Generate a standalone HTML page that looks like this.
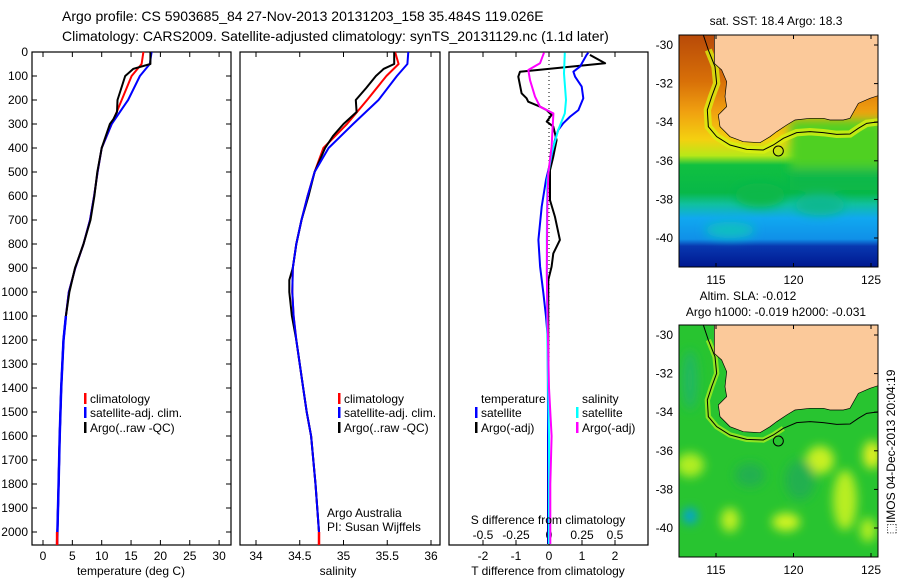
<!DOCTYPE html>
<html><head><meta charset="utf-8"><style>
body{margin:0;background:#fff;}
svg{display:block;font-family:"Liberation Sans",sans-serif;}
</style></head><body>
<svg id="fig" width="900" height="580" viewBox="0 0 900 580" xmlns="http://www.w3.org/2000/svg">
<defs>
<linearGradient id="sstW" x1="0" y1="0" x2="0" y2="1">
<stop offset="0" stop-color="#b84a08"/><stop offset="0.2" stop-color="#d87008"/><stop offset="0.33" stop-color="#f0a010"/><stop offset="0.45" stop-color="#f4d010"/><stop offset="0.52" stop-color="#b8e818"/><stop offset="0.56" stop-color="#10c040"/><stop offset="0.68" stop-color="#08b848"/><stop offset="0.73" stop-color="#10c0a0"/><stop offset="0.79" stop-color="#10a8f0"/><stop offset="0.88" stop-color="#1090e8"/><stop offset="0.91" stop-color="#0838b0"/><stop offset="1" stop-color="#001890"/>
</linearGradient>
<clipPath id="clipTop"><rect x="679" y="35" width="199" height="232"/></clipPath>
<clipPath id="clipBot"><rect x="679" y="325" width="199" height="232"/></clipPath>
<filter id="blur"><feGaussianBlur stdDeviation="5"/></filter>
</defs>

<text x="62" y="21" font-size="14">Argo profile: CS 5903685_84 27-Nov-2013 20131203_158 35.484S 119.026E</text>
<text x="62" y="41" font-size="14">Climatology: CARS2009. Satellite-adjusted climatology: synTS_20131129.nc (1.1d later)</text>

<g id="p1"></g>
<g id="p2"></g>
<g id="p3"></g>

<!-- top map -->
<g>
<g clip-path="url(#clipTop)">
<rect x="679" y="35" width="199" height="232" fill="url(#sstW)"/>
<g filter="url(#blur)">
<rect x="790" y="120" width="95" height="50" fill="#50d020"/>
<rect x="790" y="168" width="95" height="22" fill="#08b848"/>
<ellipse cx="760" cy="195" rx="25" ry="12" fill="#08b848"/>
<ellipse cx="820" cy="205" rx="25" ry="10" fill="#10b890"/>
<ellipse cx="730" cy="230" rx="25" ry="8" fill="#10c0c0"/>
</g>
<g transform="translate(650,0) scale(0.33333)">
<polyline points="175,150 195,200 200,250 185,290 172,330 175,380 200,410 240,435 290,448 340,450 370,435 400,415 440,398 480,395 520,398 560,403 600,402 625,385 650,370 690,365" fill="none" stroke="#d8f010" stroke-width="22" opacity="0.8"/>
<polygon points="193,100 193,190 215,210 230,245 225,290 230,320 215,335 205,345 210,380 240,410 280,425 330,428 360,410 380,395 410,375 435,360 480,355 520,355 540,360 580,360 600,355 625,310 660,295 690,285 690,100" fill="#fbc99a" stroke="#000" stroke-width="2"/>
<polyline points="160,105 175,150 195,200 200,250 185,290 172,330 175,380 200,410 240,435 290,448 340,450 370,435 400,415 440,398 480,395 520,398 560,403 600,402 625,385 650,370 690,365" fill="none" stroke="#000" stroke-width="3"/>
<circle cx="385" cy="453" r="15" fill="none" stroke="#000" stroke-width="3"/>
</g></g>
<rect x="679" y="35" width="199" height="232" fill="none" stroke="#000"/>
</g>
<text x="776" y="25" font-size="12" text-anchor="middle">sat. SST: 18.4  Argo: 18.3</text>

<!-- bottom map -->
<g>
<g clip-path="url(#clipBot)">
<rect x="679" y="325" width="199" height="232" fill="#28c430"/>
<g filter="url(#blur)">
<ellipse cx="690" cy="465" rx="14" ry="12" fill="#b0ee20"/>
<ellipse cx="730" cy="520" rx="9" ry="12" fill="#c0f020"/>
<ellipse cx="786" cy="522" rx="14" ry="9" fill="#d0f420"/>
<ellipse cx="820" cy="460" rx="14" ry="14" fill="#c8f020"/>
<ellipse cx="845" cy="500" rx="12" ry="30" fill="#b8ee20"/>
<ellipse cx="872" cy="455" rx="9" ry="14" fill="#e0f020"/>
<ellipse cx="868" cy="530" rx="8" ry="12" fill="#b0ee20"/>
<ellipse cx="750" cy="475" rx="15" ry="12" fill="#20b050"/>
<ellipse cx="800" cy="480" rx="15" ry="20" fill="#20b050"/>
<ellipse cx="690" cy="380" rx="8" ry="30" fill="#20b860"/>
<ellipse cx="690" cy="516" rx="7" ry="8" fill="#00a0e0"/>
</g>
<g transform="translate(650,290) scale(0.33333)">
<polyline points="175,150 195,200 200,250 185,290 172,330 175,380 200,410 240,435 290,448 340,450 370,435 400,415" fill="none" stroke="#a8ee20" stroke-width="16" opacity="0.8"/>
<polygon points="193,100 193,190 215,210 230,245 225,290 230,320 215,335 205,345 210,380 240,410 280,425 330,428 360,410 380,395 410,375 435,360 480,355 520,355 540,360 580,360 600,355 625,310 660,295 690,285 690,100" fill="#fbc99a" stroke="#000" stroke-width="2"/>
<polyline points="160,105 175,150 195,200 200,250 185,290 172,330 175,380 200,410 240,435 290,448 340,450 370,435 400,415 440,398 480,395 520,398 560,403 600,402 625,385 650,370 690,365" fill="none" stroke="#000" stroke-width="3"/>
<circle cx="385" cy="453" r="15" fill="none" stroke="#000" stroke-width="3"/>
</g></g>
<rect x="679" y="325" width="199" height="232" fill="none" stroke="#000"/>
</g>
<text x="748" y="300" font-size="12" text-anchor="middle">Altim. SLA: -0.012</text>
<text x="776" y="316" font-size="12" text-anchor="middle">Argo h1000: -0.019 h2000: -0.031</text>
<text transform="translate(895,452) rotate(-90)" font-size="12" text-anchor="middle">⬚IMOS 04-Dec-2013 20:04:19</text>
<g id="maxes"></g>
</svg>
<script>
// ---- data ----
const tempDepth = [0,50,70,100,200,250,280,300,400,500,600,700,800,900,1000,1100,1200,1400,1600,1800,2000,2050];
const tempArgo  = [18.3,18.3,15.4,14.0,12.7,12.6,12.0,11.4,10.0,9.25,8.75,8.1,6.9,5.45,4.5,3.9,3.5,3.1,2.85,2.65,2.45,2.4];
const tempClimDepth = [0,50,100,200,300,400,500,600,700,800,900,1000,1100,1200,1400,1600,1800,2000,2050];
const tempClim  = [17.1,16.8,15.1,13.4,11.7,10.0,9.3,8.7,8.0,6.9,5.5,4.4,3.9,3.5,3.1,2.85,2.65,2.45,2.4];
const tempSat   = [18.5,18.2,16.5,14.5,11.7,10.0,9.3,8.7,8.0,6.9,5.5,4.4,3.9,3.5,3.1,2.85,2.65,2.45,2.4];
const salDepth = [0,50,70,100,150,200,250,300,350,400,500,600,700,800,900,950,1000,1100,1200,1400,1500,1600,1800,2000,2050];
const salArgo  = [35.58,35.58,35.46,35.37,35.26,35.14,35.15,35.0,34.88,34.79,34.67,34.6,34.52,34.46,34.42,34.38,34.38,34.41,34.46,34.54,34.58,34.63,34.68,34.72,34.72];
const salClimDepth = [0,50,100,200,300,400,500,600,700,800,900,1000,1100,1200,1400,1500,1600,1800,2000,2050];
const salClim = [35.59,35.63,35.49,35.27,35.04,34.77,34.67,34.59,34.52,34.46,34.42,34.415,34.43,34.46,34.54,34.58,34.63,34.68,34.72,34.72];
const salSat  = [35.74,35.73,35.61,35.40,35.11,34.83,34.67,34.59,34.52,34.46,34.42,34.415,34.43,34.46,34.54,34.58,34.63,34.68,34.72,34.72];
const tdArgoDepth = [12,47,82,103,172,193,207,228,242,262,290,311,367,436,492,617,686,783,839,894,950,1186,1500,2050];
const tdArgo = [1.24,1.70,-0.88,-0.93,-0.83,-0.68,-0.63,-0.27,-0.07,0.08,-0.07,0.13,0.23,0.13,0.03,0.03,0.18,0.33,0.13,0.08,-0.02,-0.02,-0.03,-0.03];
const tdSatDepth = [3,12,61,82,103,144,193,242,269,297,325,367,464,533,644,783,894,1006,1103,1186,1500,2050];
const tdSat = [1.19,1.14,0.94,0.74,0.79,0.99,1.04,0.89,0.64,0.43,0.28,0.18,0.03,-0.09,-0.22,-0.32,-0.27,-0.17,-0.09,-0.04,-0.03,-0.02];
const sdSatDepth = [3,89,200,256,325,422,533,783,1186,1600,2050];
const sdSat = [0.12,0.114,0.129,0.12,0.07,0.02,-0.013,-0.017,-0.013,0.0,0.0];
const sdArgoDepth = [3,47,75,117,186,228,256,311,394,506,644,922,1061,1400,1600,1800,2050];
const sdArgo = [-0.038,-0.068,-0.157,-0.144,-0.106,-0.068,0.033,0.028,0.02,-0.005,-0.013,-0.017,-0.013,0.0,0.02,0.01,0.01];
const depthTicks = [0,100,200,300,400,500,600,700,800,900,1000,1100,1200,1300,1400,1500,1600,1700,1800,1900,2000];
const tempTicks = [0,5,10,15,20,25,30];
const salTicks = [34,34.5,35,35.5,36];
const salTickLabels = ["34","34.5","35","35.5","36"];
const tdTicks = [-2,-1,0,1,2];
const sdTicks = [-0.5,-0.25,0,0.25,0.5];
const sdTickLabels = ["-0.5","-0.25","0","0.25","0.5"];
const latTicks = [-30,-32,-34,-36,-38,-40];
const lonTicks = [115,120,125];

// ---- scales ----
const TOP=52, BOT=545;
const yD = d => TOP + d*0.24;
const xT = t => 43 + t*5.87;
const xS = s => 256 + (s-34)*87.5;
const xTD = d => 549 + d*33;
const xSD = d => 549 + d*132;
const NS='http://www.w3.org/2000/svg';
function mk(tag, attrs, parent){const e=document.createElementNS(NS,tag);for(const k in attrs)e.setAttribute(k,attrs[k]);parent.appendChild(e);return e;}
function line(parent, xs, ds, xf, color, w){
  const pts = xs.map((v,i)=>xf(v).toFixed(1)+','+yD(ds[i]).toFixed(1)).join(' ');
  return mk('polyline',{points:pts,fill:'none',stroke:color,'stroke-width':w,'stroke-linejoin':'round'},parent);
}
function frame(parent,x0,x1){
  const r = mk('rect',{x:x0,y:TOP,width:x1-x0,height:BOT-TOP,fill:'none',stroke:'#000','stroke-width':1.2},parent);
  
  
}
function xticks(parent, ticks, labels, xf, ly){
  ticks.forEach((t,i)=>{
    const x=xf(t);
    mk('line',{x1:x,x2:x,y1:TOP,y2:TOP+5,stroke:'#000'},parent);
    mk('line',{x1:x,x2:x,y1:BOT,y2:BOT-5,stroke:'#000'},parent);
    if(ly){const tx=mk('text',{x:x,y:ly,'font-size':12,'text-anchor':'middle'},parent);tx.textContent=labels[i];
      
      }
  });
}
function legendEntry(parent,x,y,color,label){
  mk('rect',{x:x-6,y:y-10,width:2.5,height:11,fill:color},parent);
  const t=mk('text',{x:x,y:y,'font-size':12},parent);t.textContent=label;
  
  
}
function label(parent,x,y,txt,anchor,name){
  const t=mk('text',{x:x,y:y,'font-size':12,'text-anchor':anchor||'start'},parent);t.textContent=txt;
  
  
  return t;
}

// panel 1
const p1=document.getElementById('p1');
frame(p1,32,231);
depthTicks.forEach(d=>{
  const y=yD(d);
  mk('line',{x1:32,x2:37,y1:y,y2:y,stroke:'#000'},p1);
  mk('line',{x1:231,x2:226,y1:y,y2:y,stroke:'#000'},p1);
  const t=mk('text',{x:28,y:y+4,'font-size':12,'text-anchor':'end'},p1);t.textContent=d;
  
  
});
xticks(p1,tempTicks,tempTicks.map(String),xT,560);
line(p1,tempClim,tempClimDepth,xT,'#ff0000',2);
line(p1,tempSat,tempClimDepth,xT,'#0000ff',2);
line(p1,tempArgo,tempDepth,xT,'#000000',2);
line(p1,tempSat.slice(12),tempClimDepth.slice(12),xT,'#0000ff',2.5);
mk('line',{x1:xT(2.4),x2:xT(2.4),y1:yD(2000),y2:BOT,stroke:'#ff0000','stroke-width':2.5},p1);
legendEntry(p1,90,403,'#ff0000','climatology');
legendEntry(p1,90,417,'#0000ff','satellite-adj. clim.');
legendEntry(p1,90,432,'#000','Argo(..raw -QC)');
label(p1,131,575,'temperature (deg C)','middle','x-axis-title-temperature');

// panel 2
const p2=document.getElementById('p2');
frame(p2,240,440);
xticks(p2,salTicks,salTickLabels,xS,560);
line(p2,salClim,salClimDepth,xS,'#ff0000',2);
line(p2,salArgo,salDepth,xS,'#000000',2);
line(p2,salSat,salClimDepth,xS,'#0000ff',2);
mk('line',{x1:xS(34.72),x2:xS(34.72),y1:yD(2000),y2:BOT,stroke:'#ff0000','stroke-width':2.5},p2);
legendEntry(p2,344,403,'#ff0000','climatology');
legendEntry(p2,344,417,'#0000ff','satellite-adj. clim.');
legendEntry(p2,344,432,'#000','Argo(..raw -QC)');
label(p2,327,517,'Argo Australia','start','credit-line-1');
label(p2,327,531,'PI: Susan Wijffels','start','credit-line-2');
label(p2,338,575,'salinity','middle','x-axis-title-salinity');

// panel 3
const p3=document.getElementById('p3');
frame(p3,449,648);
xticks(p3,tdTicks,tdTicks.map(String),xTD,560);
sdTicks.forEach((t,i)=>{const tx=mk('text',{x:xSD(t),y:539,'font-size':12,'text-anchor':'middle'},p3);tx.textContent=sdTickLabels[i];
  
  });
mk('line',{x1:549,x2:549,y1:TOP,y2:yD(1400),stroke:'#000','stroke-dasharray':'1,3'},p3);
line(p3,tdArgo,tdArgoDepth,xTD,'#000',2);
line(p3,tdSat,tdSatDepth,xTD,'#0000ff',2);
line(p3,sdSat,sdSatDepth,xSD,'#00ffff',2);
line(p3,sdArgo,sdArgoDepth,xSD,'#ff00ff',2);
label(p3,481,403,'temperature','start','legend-title-temperature');
label(p3,582,403,'salinity','start','legend-title-salinity');
legendEntry(p3,481,417,'#0000ff','satellite');
legendEntry(p3,481,432,'#000','Argo(-adj)');
legendEntry(p3,582,417,'#00ffff','satellite');
legendEntry(p3,582,432,'#ff00ff','Argo(-adj)');
label(p3,548,524,'S difference from climatology','middle','s-diff-axis-title');
label(p3,548,575,'T difference from climatology','middle','x-axis-title-tdiff');

// map axes
const mx=document.getElementById('maxes');
const latY0 = lat => 45 + (-30-lat)*19.3;
const lonX = lon => 716 + (lon-115)*15.5;
[0,290].forEach((off,k)=>{
  latTicks.forEach(l=>{
    const y=latY0(l)+off;
    mk('line',{x1:874,x2:878,y1:y,y2:y,stroke:'#000'},mx);
    const t=mk('text',{x:673,y:y+4,'font-size':12,'text-anchor':'end'},mx);t.textContent=l;
    
    
  });
  lonTicks.forEach(l=>{
    const x=lonX(l);
    mk('line',{x1:x,x2:x,y1:35+off,y2:39+off,stroke:'#000'},mx);
    mk('line',{x1:x,x2:x,y1:267+off,y2:263+off,stroke:'#000'},mx);
    const t=mk('text',{x:x,y:284+off,'font-size':12,'text-anchor':'middle'},mx);t.textContent=l;
    
    
  });
});
</script>
</body></html>
